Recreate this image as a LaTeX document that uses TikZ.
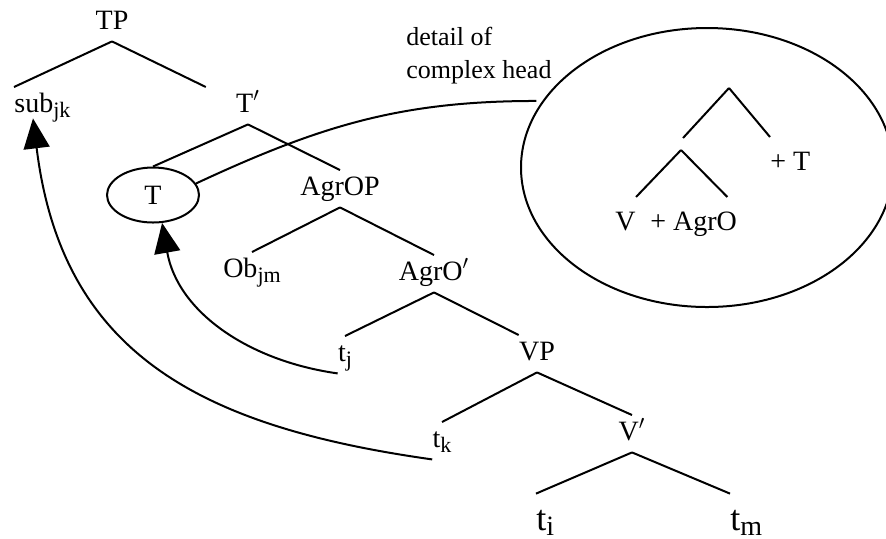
\documentclass[tikz,border=0pt]{standalone}
\usepackage{fontspec}
\setmainfont{Liberation Serif}
\usetikzlibrary{shapes.geometric, arrows.meta}

% lowered index letters, as the tree labels print them
\newcommand{\lowsub}[1]{\raisebox{-2.5pt}{\fontsize{11}{12}\selectfont #1}}
\newcommand{\biglowsub}[1]{\raisebox{-2.5pt}{\fontsize{14}{15}\selectfont #1}}

\begin{document}
\begin{tikzpicture}[
  x=0.5pt, y=-0.5pt,
  % Node styles
  lbl/.style={
    anchor=base, inner xsep=0pt, inner ysep=2.5pt,
    text height=9.8pt, text depth=3.5pt,
    font=\fontsize{14}{16}\selectfont
  },
  biglbl/.style={
    lbl, inner ysep=7pt, text height=11pt,
    font=\fontsize{18}{20}\selectfont
  },
  innerlbl/.style={lbl, inner ysep=6.5pt},
  headnode/.style={
    ellipse, draw, line width=1pt, inner sep=0pt,
    minimum width=46pt, minimum height=27.5pt,
    font=\fontsize{14}{16}\selectfont
  },
  detailnode/.style={
    ellipse, draw, line width=1pt, inner sep=0pt,
    minimum width=186pt, minimum height=139.5pt
  },
  % Line styles
  branch/.style={line width=1pt},
  arr/.style={-{Triangle[length=15pt, width=13pt]}, line width=1pt}
]
\useasboundingbox (0,0) rectangle (886,538);

%% ── Tree labels ──────────────────────────────────────────────
\node[lbl]                   (TP)      at (112,29)  {TP};
\node[lbl, anchor=base west] (subj)    at (14,112)  {sub\lowsub{jk}};
\node[lbl]                   (Tbar)    at (248,112) {T$'$};
\node[headnode]              (Thead)   at (153,195) {T};
\node[lbl]                   (AgrOP)   at (340,195) {AgrOP};
\node[lbl]                   (Obj)     at (252,277) {Ob\lowsub{jm}};
\node[lbl]                   (AgrObar) at (434,280) {AgrO$'$};
\node[lbl]                   (tj)      at (345,361) {t\lowsub{j}};
\node[lbl]                   (VP)      at (537,360) {VP};
\node[lbl]                   (tk)      at (442,447) {t\lowsub{k}};
\node[lbl]                   (Vbar)    at (632,440) {V$'$};
\node[biglbl, anchor=base west] (ti)   at (536,530) {t\biglowsub{i}};
\node[biglbl, anchor=base west] (tm)   at (730,530) {t\biglowsub{m}};

%% ── Branches ─────────────────────────────────────────────────
\draw[branch] (TP.south)      -- (subj.north west);
\draw[branch] (TP.south)      -- ([xshift=-15pt]Tbar.north west);
\draw[branch] (Tbar.south)    -- (Thead.north);
\draw[branch] (Tbar.south)    -- (AgrOP.north);
\draw[branch] (AgrOP.south)   -- (Obj.north);
\draw[branch] (AgrOP.south)   -- (AgrObar.north);
\draw[branch] (AgrObar.south) -- (tj.north);
\draw[branch] (AgrObar.south) -- (VP.north west);
\draw[branch] (VP.south)      -- (tk.north);
\draw[branch] (VP.south)      -- (Vbar.north);
\draw[branch] (Vbar.south)    -- (ti.north west);
\draw[branch] (Vbar.south)    -- (tm.north west);

%% ── Detail of complex head ───────────────────────────────────
\node[anchor=north west, inner sep=0pt, align=left,
      font=\fontsize{13}{16.5}\selectfont] (note) at (406,27)
      {detail of\\complex head};
\node[detailnode] (detailE) at (707,167.5) {};

\coordinate (inTop)    at (729,88);
\coordinate (inMidTop) at (683,138);
\coordinate (inMid)    at (681,150);
\node[innerlbl, anchor=base west] (V)        at (615,230) {V};
\node[innerlbl, anchor=base west] (plusAgrO) at (650,230) {+ AgrO};
\node[innerlbl, anchor=base west] (plusT)    at (770,170) {+ T};

\draw[branch] (inTop) -- (inMidTop);
\draw[branch] (inTop) -- (plusT.north west);
\draw[branch] (inMid) -- (V.north east);
\draw[branch] (inMid) -- ([xshift=-5pt]plusAgrO.north east);

\draw[branch, shorten >=3pt] (Thead.15) to[out=25, in=180] (detailE.158);

%% ── Movement arrows ──────────────────────────────────────────
\draw[arr] (tj.south west) to[out=172, in=-80] (Thead.-72);
\draw[arr] (tk.south west) to[out=172, in=-83, looseness=1.15]
  ([xshift=9.5pt, yshift=3pt]subj.south west);

\end{tikzpicture}
\end{document}
